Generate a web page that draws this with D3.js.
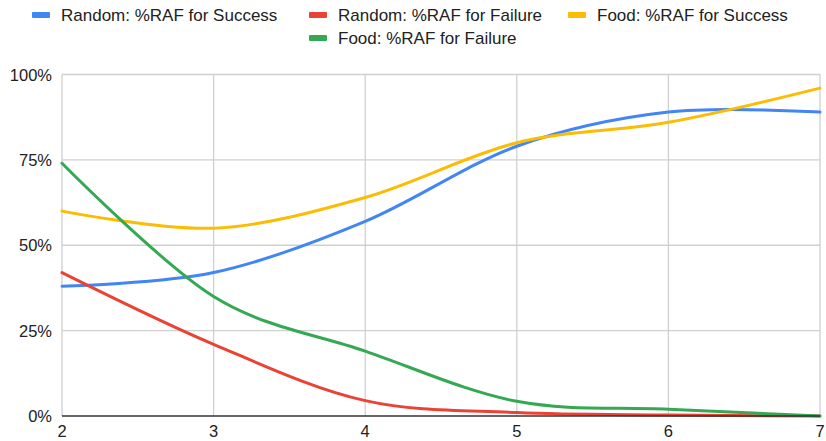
<!DOCTYPE html>
<html><head><meta charset="utf-8">
<script src="https://cdn.jsdelivr.net/npm/d3@7"></script>
<style>
body{margin:0;background:#fff;}
text{font-family:"Liberation Sans",Arial,sans-serif;fill:#222;}
</style></head>
<body><svg id="c" width="826" height="441"></svg>
<script>
const xValues = [2, 3, 4, 5, 6, 7];
const seriesNames = ["Random: %RAF for Success", "Random: %RAF for Failure", "Food: %RAF for Success", "Food: %RAF for Failure"];
const randomSuccess = [38, 42, 57, 79, 89, 89];
const randomFailure = [42, 21, 4.5, 1, 0.3, 0];
const foodSuccess = [60, 55, 64, 80, 86, 96];
const foodFailure = [74, 35, 19, 4.3, 2, 0];
const seriesColors = ["#4285F4", "#EA4335", "#FBBC04", "#34A853"];
const yTicks = [0, 25, 50, 75, 100];
const xTicks = [2, 3, 4, 5, 6, 7];

const allSeries = [randomSuccess, randomFailure, foodSuccess, foodFailure];
const svg = d3.select("#c");
const x = d3.scaleLinear().domain([2, 7]).range([62, 820]);
const y = d3.scaleLinear().domain([0, 100]).range([416, 74.5]);

// gridlines
svg.append("g").selectAll("line").data(yTicks.filter(d => d > 0)).join("line")
  .attr("x1", x(2)).attr("x2", x(7)).attr("y1", d => y(d)).attr("y2", d => y(d))
  .attr("stroke", "#d0d0d0").attr("stroke-width", 1.3);
svg.append("g").selectAll("line").data(xTicks).join("line")
  .attr("x1", d => x(d)).attr("x2", d => x(d)).attr("y1", y(0)).attr("y2", y(100))
  .attr("stroke", "#d0d0d0").attr("stroke-width", 1.3);

// y labels
svg.append("g").selectAll("text").data(yTicks).join("text")
  .attr("x", 52).attr("y", d => y(d) + 6).attr("text-anchor", "end")
  .style("font-size", "16.5px").text(d => d + "%");
// x labels
svg.append("g").selectAll("text").data(xTicks).join("text")
  .attr("x", d => x(d)).attr("y", 437).attr("text-anchor", "middle")
  .style("font-size", "16.5px").text(d => d);

// lines
const line = d3.line().x((d, i) => x(xValues[i])).y(d => y(d)).curve(d3.curveCardinal.tension(0));
svg.append("g").selectAll("path").data(allSeries).join("path")
  .attr("d", d => line(d)).attr("fill", "none")
  .attr("stroke", (d, i) => seriesColors[i]).attr("stroke-width", 3)
  .attr("stroke-linejoin", "round").attr("stroke-linecap", "round");

// baseline
svg.append("line").attr("x1", x(2)).attr("x2", x(7)).attr("y1", y(0)).attr("y2", y(0))
  .attr("stroke", "#333").attr("stroke-width", 1.3);

// legend
const legendPos = [[32, 15], [309, 15], [568, 15], [309, 38]];
const lg = svg.append("g").selectAll("g").data(seriesNames).join("g")
  .attr("transform", (d, i) => `translate(${legendPos[i][0]},${legendPos[i][1]})`);
lg.append("rect").attr("x", 0).attr("y", -3).attr("width", 18).attr("height", 6)
  .attr("rx", 1).attr("fill", (d, i) => seriesColors[i]);
lg.append("text").attr("x", 29).attr("y", 6).style("font-size", "17px").text(d => d);
</script></body></html>
